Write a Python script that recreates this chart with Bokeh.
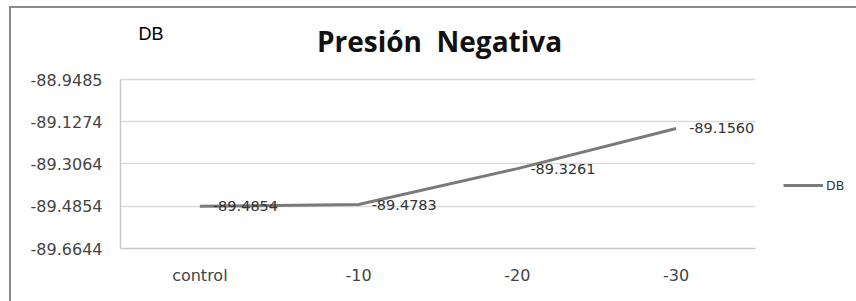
from bokeh.plotting import figure
from bokeh.models import (ColumnDataSource, FixedTicker, LabelSet, Label, Legend, LegendItem)
from bokeh.core.properties import value
from bokeh.embed import file_html
from bokeh.resources import INLINE

# ---- data ----
categories = ["control", "-10", "-20", "-30"]
db_values = [-89.4854, -89.4783, -89.3261, -89.1560]
db_labels = ["-89.4854", "-89.4783", "-89.3261", "-89.1560"]
y_ticks = [-89.6644, -89.4854, -89.3064, -89.1274, -88.9485]
y_tick_labels = ["-89.6644", "-89.4854", "-89.3064", "-89.1274", "-88.9485"]
title_text = "Presión \u00a0Negativa"
series_name = "DB"

# ---- layout (pixels) ----
FRAME_H = 233          # frame covers title area too
AXIS_H = 169           # pixel height of the value axis part
top_pad = (FRAME_H - AXIS_H) / AXIS_H * (y_ticks[-1] - y_ticks[0])

src = ColumnDataSource(dict(x=categories, y=db_values, lab=db_labels))

p = figure(
    x_range=categories,
    y_range=(y_ticks[0], y_ticks[-1] + top_pad),
    width=845, height=293,
    frame_width=635, frame_height=FRAME_H,
    min_border_left=109, min_border_right=101,
    min_border_top=7, min_border_bottom=53,
    output_backend="svg", toolbar_location=None,
    background_fill_color="white", border_fill_color="white",
)
p.styles = {"margin-left": "9px", "margin-top": "6px",
            "border-left": "2px solid #8a8a8a", "border-top": "2px solid #8a8a8a"}
p.outline_line_color = None

# axes
p.yaxis.ticker = FixedTicker(ticks=y_ticks)
p.yaxis.bounds = (y_ticks[0], y_ticks[-1])
p.yaxis.major_label_overrides = {t: l for t, l in zip(y_ticks, y_tick_labels)}
for ax in (p.xaxis[0], p.yaxis[0]):
    ax.axis_line_color = "#c8c8c8"
    ax.axis_line_width = 1.5
    ax.major_tick_line_color = None
    ax.minor_tick_line_color = None
    ax.major_label_text_font = "DejaVu Sans"
    ax.major_label_text_font_size = "16px"
    ax.major_label_text_color = "#444444"
p.yaxis.major_label_standoff = 12
p.xaxis.major_label_standoff = 11

p.xgrid.grid_line_color = None
p.ygrid.ticker = FixedTicker(ticks=y_ticks)
p.ygrid.grid_line_color = "#d9d9d9"
p.ygrid.grid_line_width = 1.5

r = p.line("x", "y", source=src, line_color="#7a7a7a", line_width=3)

labels = LabelSet(x="x", y="y", text="lab", source=src, x_offset=13, y_offset=0,
                  text_align="left", text_baseline="middle",
                  text_font=value("DejaVu Sans"), text_font_size=value("14.5px"),
                  text_color="#333333")
p.add_layout(labels)

# title and series name (screen units, from frame bottom-left)
p.add_layout(Label(x=319, y=208, x_units="screen", y_units="screen", text=title_text,
                   text_font="Open Sans", text_font_style="bold", text_font_size="28px",
                   text_align="center", text_baseline="middle", text_color="#111111"))
p.add_layout(Label(x=18, y=215, x_units="screen", y_units="screen", text=series_name,
                   text_font="Liberation Sans", text_font_size="18px",
                   text_align="left", text_baseline="middle", text_color="#000000"))

legend = Legend(items=[LegendItem(label=series_name, renderers=[r])],
                location=(28, 55), padding=0, margin=0, border_line_color=None,
                glyph_width=40, glyph_height=16, label_standoff=3,
                label_text_font="DejaVu Sans", label_text_font_size="12.5px",
                label_text_color="#333333", background_fill_alpha=0)
p.add_layout(legend, "right")

open("out.html", "w").write(file_html(p, INLINE))
